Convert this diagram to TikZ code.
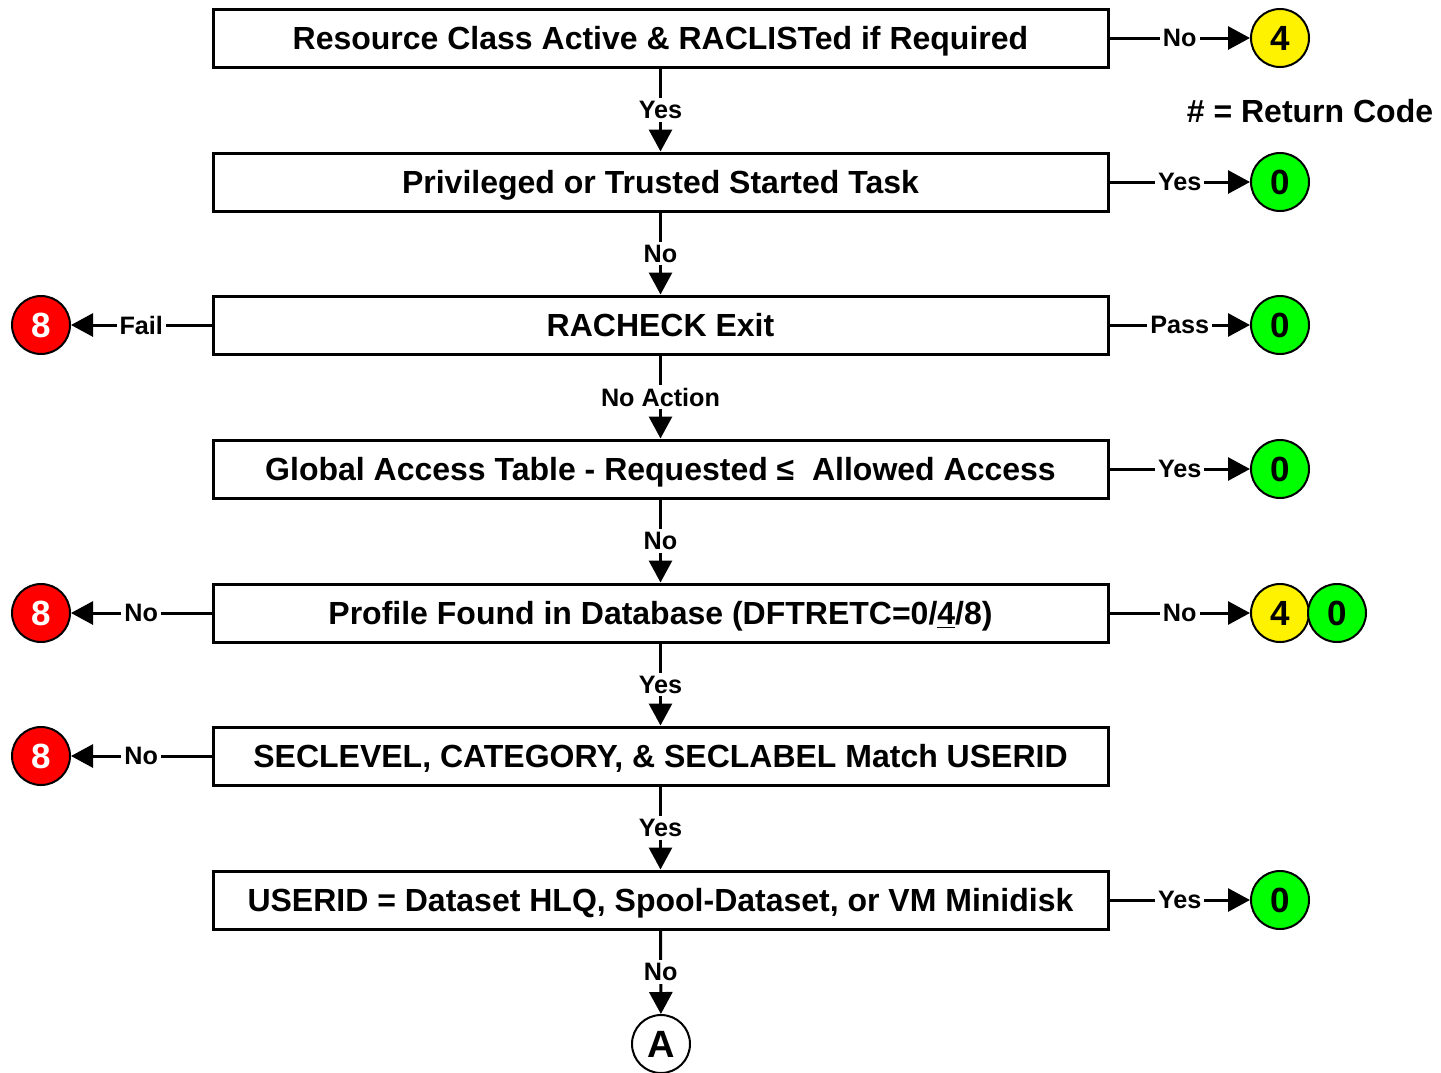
\documentclass[tikz,border=0pt]{standalone}
\usepackage{fontspec}
\setmainfont{Liberation Sans}
\usetikzlibrary{arrows.meta}
\begin{document}
\begin{tikzpicture}[x=0.5pt,y=-0.5pt,
  stepbox/.style={draw, line width=1.5pt, minimum width=447.5pt, minimum height=29pt,
    inner sep=0pt, text depth=0pt, font=\fontsize{16}{18}\selectfont\bfseries},
  rc/.style={circle, draw, line width=1pt, minimum size=29pt, inner sep=0pt,
    font=\fontsize{17.5}{20}\selectfont\bfseries},
  rcy/.style={rc, fill=yellow},
  rcg/.style={rc, fill=green},
  rcr/.style={rc, fill=red, text=white},
  lbl/.style={fill=white, inner sep=1.5pt, font=\fontsize{12.6}{14}\selectfont\bfseries},
  flow/.style={line width=1.5pt, -{Triangle[length=11pt,width=11.5pt]}},
]
\useasboundingbox (0,0) rectangle (1441,1072);

% decision steps
\node[stepbox] (s1) at (660.5,38)  {Resource Class Active \& RACLISTed if Required};
\node[stepbox] (s2) at (660.5,182) {Privileged or Trusted Started Task};
\node[stepbox] (s3) at (660.5,325) {RACHECK Exit};
\node[stepbox] (s4) at (660.5,469) {Global Access Table - Requested ≤\ \ Allowed Access};
\node[stepbox] (s5) at (660.5,613) {Profile Found in Database (DFTRETC=0/\underline{4}/8)};
\node[stepbox] (s6) at (660.5,756) {SECLEVEL, CATEGORY, \& SECLABEL Match USERID};
\node[stepbox] (s7) at (660.5,900) {USERID = Dataset HLQ, Spool-Dataset, or VM Minidisk};

% return codes
\node[rcy] (r1) at (1280,38) {4};
\node[rcg] (r2) at (1280,182) {0};
\node[rcg] (r3) at (1280,325) {0};
\node[rcr] (l3) at (41,325) {8};
\node[rcg] (r4) at (1280,469) {0};
\node[rcy] (r5) at (1280,613) {4};
\node[rcg] (r5b) at (1337,613) {0};
\node[rcr] (l5) at (41,613) {8};
\node[rcr] (l6) at (41,756) {8};
\node[rcg] (r7) at (1280,900) {0};

% off-page connector
\node[circle, draw, line width=1pt, minimum size=29pt, inner sep=0pt, fill=white,
  font=\fontsize{19}{22}\selectfont\bfseries] (A) at (661,1044) {A};

% legend
\node[font=\fontsize{16}{18}\selectfont\bfseries] (key) at (1310,111) {\# = Return Code};

% main path
\draw[flow] (s1) -- node[lbl] {Yes} (s2);
\draw[flow] (s2) -- node[lbl] {No} (s3);
\draw[flow] (s3) -- node[lbl] {No Action} (s4);
\draw[flow] (s4) -- node[lbl] {No} (s5);
\draw[flow] (s5) -- node[lbl] {Yes} (s6);
\draw[flow] (s6) -- node[lbl] {Yes} (s7);
\draw[flow] (s7) -- node[lbl] {No} (A);

% exits to the right
\draw[flow] (s1.east) -- node[lbl] {No} (r1.west);
\draw[flow] (s2.east) -- node[lbl] {Yes} (r2.west);
\draw[flow] (s3.east) -- node[lbl] {Pass} (r3.west);
\draw[flow] (s4.east) -- node[lbl] {Yes} (r4.west);
\draw[flow] (s5.east) -- node[lbl] {No} (r5.west);
\draw[flow] (s7.east) -- node[lbl] {Yes} (r7.west);

% exits to the left
\draw[flow] (s3.west) -- node[lbl] {Fail} (l3.east);
\draw[flow] (s5.west) -- node[lbl] {No} (l5.east);
\draw[flow] (s6.west) -- node[lbl] {No} (l6.east);
\end{tikzpicture}
\end{document}
